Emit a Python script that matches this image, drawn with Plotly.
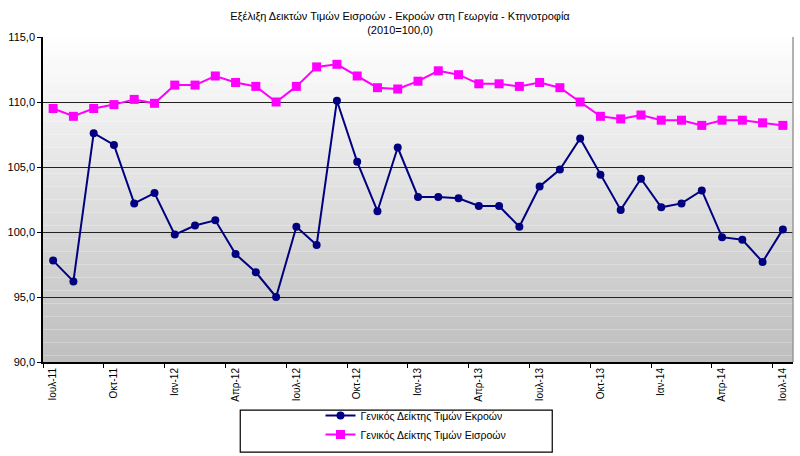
import plotly.graph_objects as go

months = [
    'Ιουλ-11', 'Αυγ-11', 'Σεπ-11', 'Οκτ-11', 'Νοε-11', 'Δεκ-11',
    'Ιαν-12', 'Φεβ-12', 'Μαρ-12', 'Απρ-12', 'Μαϊ-12', 'Ιουν-12',
    'Ιουλ-12', 'Αυγ-12', 'Σεπ-12', 'Οκτ-12', 'Νοε-12', 'Δεκ-12',
    'Ιαν-13', 'Φεβ-13', 'Μαρ-13', 'Απρ-13', 'Μαϊ-13', 'Ιουν-13',
    'Ιουλ-13', 'Αυγ-13', 'Σεπ-13', 'Οκτ-13', 'Νοε-13', 'Δεκ-13',
    'Ιαν-14', 'Φεβ-14', 'Μαρ-14', 'Απρ-14', 'Μαϊ-14', 'Ιουν-14',
    'Ιουλ-14',
]

# Γενικός Δείκτης Τιμών Εκροών (output prices)
outputs = [
    97.8, 96.2, 107.6, 106.7, 102.2, 103.0,
    99.8, 100.5, 100.9, 98.3, 96.9, 95.0,
    100.4, 99.0, 110.1, 105.4, 101.6, 106.5,
    102.7, 102.7, 102.6, 102.0, 102.0, 100.4,
    103.5, 104.8, 107.2, 104.4, 101.7, 104.1,
    101.9, 102.2, 103.2, 99.6, 99.4, 97.7,
    100.2,
]

# Γενικός Δείκτης Τιμών Εισροών (input prices)
inputs = [
    109.5, 108.9, 109.5, 109.8, 110.2, 109.9,
    111.3, 111.3, 112.0, 111.5, 111.2, 110.0,
    111.2, 112.7, 112.9, 112.0, 111.1, 111.0,
    111.6, 112.4, 112.1, 111.4, 111.4, 111.2,
    111.5, 111.1, 110.0, 108.9, 108.7, 109.0,
    108.6, 108.6, 108.2, 108.6, 108.6, 108.4,
    108.2,
]

y_ticks = [90, 95, 100, 105, 110, 115]
y_labels = ['90,0', '95,0', '100,0', '105,0', '110,0', '115,0']

fig = go.Figure()

fig.add_trace(go.Scatter(
    x=months, y=outputs, name='Γενικός Δείκτης Τιμών Εκροών',
    mode='lines+markers',
    line=dict(color='#000080', width=2),
    marker=dict(symbol='circle', size=8, color='#000080'),
))

fig.add_trace(go.Scatter(
    x=months, y=inputs, name='Γενικός Δείκτης Τιμών Εισροών',
    mode='lines+markers',
    line=dict(color='#ff00ff', width=2),
    marker=dict(symbol='square', size=9, color='#ff00ff'),
))

# background gradient, white at the top to grey at the bottom
n_bands = 50
for i in range(n_bands):
    t = (i + 0.5) / n_bands
    c = int(round(255 - t * (255 - 190)))
    fig.add_shape(
        type='rect', xref='paper', yref='y domain',
        x0=0, x1=1, y0=1 - (i + 1) / n_bands, y1=1 - i / n_bands,
        fillcolor=f'rgb({c},{c},{c})', line=dict(width=0), layer='below',
    )

# right border of the plot area
fig.add_shape(
    type='line', xref='paper', yref='paper', x0=1, x1=1, y0=0, y1=1,
    line=dict(color='#999999', width=1.5),
)

# legend frame
fig.add_shape(
    type='rect', xref='paper', yref='paper',
    x0=0.263, x1=0.679, y0=-0.148, y1=-0.277,
    line=dict(color='black', width=1.2), fillcolor='rgba(0,0,0,0)',
)

fig.update_layout(
    width=800, height=456,
    margin=dict(l=43, r=7, t=37, b=94),
    paper_bgcolor='white',
    plot_bgcolor='white',
    font=dict(family='Liberation Sans, Arial, sans-serif', size=11, color='black'),
    title=dict(
        text='Εξέλιξη Δεικτών Τιμών Εισροών - Εκροών στη Γεωργία - Κτηνοτροφία<br>(2010=100,0)',
        x=0.5, xanchor='center', yref='container', y=0.956, yanchor='middle',
        font=dict(size=11),
    ),
    showlegend=True,
    legend=dict(
        x=0.37, xanchor='left', y=-0.268, yanchor='bottom',
        borderwidth=0, bgcolor='rgba(0,0,0,0)',
        font=dict(size=10.5), tracegroupgap=0,
        itemwidth=30,
    ),
)

fig.update_xaxes(
    type='category', categoryorder='array', categoryarray=months,
    range=[-0.5, 36.5], automargin=False,
    dtick=3, tick0=0, tickson='boundaries',
    tickangle=-90, ticks='outside', ticklen=4, tickcolor='black',
    showline=True, linecolor='black', linewidth=2,
    showgrid=False, zeroline=False,
    tickfont=dict(size=10),
)

fig.update_yaxes(
    range=[90, 115], tickvals=y_ticks, ticktext=y_labels,
    automargin=False,
    ticks='outside', ticklen=4, tickcolor='black',
    showline=True, linecolor='black', linewidth=1.5,
    showgrid=True, gridcolor='#222222', gridwidth=1.3,
    zeroline=False,
    tickfont=dict(size=11),
)

fig.write_html('out.html', config={'displayModeBar': False},
               post_script="document.body.style.margin='0';")
